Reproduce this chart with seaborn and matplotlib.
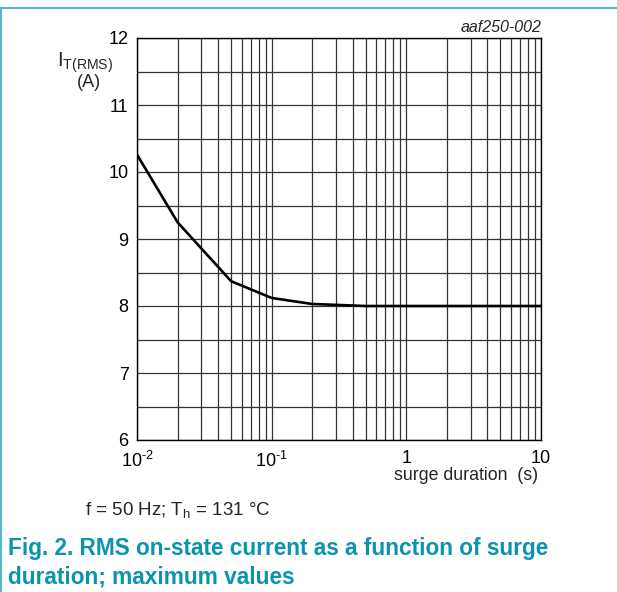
import matplotlib
matplotlib.use("Agg")
import matplotlib.pyplot as plt
import matplotlib.ticker as mticker
from matplotlib.lines import Line2D
import seaborn as sns
import pandas as pd

sns.set_style("white")
plt.rcParams['font.family'] = ['Liberation Sans', 'DejaVu Sans']
plt.rcParams['mathtext.fontset'] = 'custom'
plt.rcParams['mathtext.rm'] = 'Liberation Sans'
plt.rcParams['mathtext.it'] = 'Liberation Sans:italic'

# surge duration (s) vs RMS on-state current (A)
duration = [0.01, 0.02, 0.05, 0.1, 0.2, 0.5, 1, 2, 5, 10]
current = [10.26, 9.25, 8.37, 8.12, 8.03, 8.0, 8.0, 8.0, 8.0, 8.0]
x_ticks = [0.01, 0.1, 1, 10]
x_labels = [r'$\mathregular{10^{\text{-}2}}$', r'$\mathregular{10^{\text{-}1}}$', '1', '10']
y_ticks = [6, 7, 8, 9, 10, 11, 12]

df = pd.DataFrame({"duration": duration, "current": current})

fig = plt.figure(figsize=(6.17, 5.92), dpi=100)
ax = fig.add_axes([137 / 617, 1 - 440 / 592, 404 / 617, 402 / 592])

sns.lineplot(data=df, x="duration", y="current", ax=ax, color="black",
             linewidth=1.9, zorder=5)

ax.set_xscale("log")
ax.set_xlim(0.01, 10)
ax.set_ylim(6, 12)
ax.set_xticks(x_ticks)
ax.set_xticklabels(x_labels)
ax.xaxis.set_minor_locator(mticker.LogLocator(base=10, subs=range(2, 10)))
ax.xaxis.set_minor_formatter(mticker.NullFormatter())
ax.set_yticks(y_ticks)
ax.yaxis.set_minor_locator(mticker.MultipleLocator(0.5))
ax.grid(which="both", color="#333333", linewidth=0.9)
ax.tick_params(which="both", length=0, labelsize=13, colors="black")
ax.tick_params(axis="y", pad=6)
ax.tick_params(axis="x", pad=7.5)
for s in ax.spines.values():
    s.set_color("black")
    s.set_linewidth(1.0)
ax.set_xlabel("")
ax.set_ylabel("")

fig.text(57 / 617, 1 - 67 / 592, r'$\mathregular{I_{T(RMS)}}$', fontsize=14.5,
         ha="left", va="baseline")
fig.text(89 / 617, 1 - 87 / 592, "(A)", fontsize=13, ha="center", va="baseline")
fig.text(542 / 617, 1 - 28 / 592, "aaf250-002", fontsize=11.5, style="italic",
         ha="right", va="center")
fig.text(538 / 617, 1 - 475 / 592, "surge duration  (s)", fontsize=12.8,
         ha="right", va="center")
fig.text(85 / 617, 1 - 510 / 592, r'f = 50 Hz; T$\mathregular{_h}$ = 131 °C',
         fontsize=13.5, ha="left", va="center")
fig.text(8 / 617, 1 - 549 / 592,
         "Fig. 2. RMS on-state current as a function of surge",
         fontsize=16.3, fontweight="bold", color="#0b93b0", ha="left", va="center")
fig.text(8 / 617, 1 - 577 / 592, "duration; maximum values",
         fontsize=16.3, fontweight="bold", color="#0b93b0", ha="left", va="center")

teal = "#58b6c9"
fig.add_artist(Line2D([0, 1], [1 - 7.5 / 592] * 2, color=teal, linewidth=1.5))
fig.add_artist(Line2D([1 / 617] * 2, [0, 1 - 7.5 / 592], color=teal, linewidth=1.5))

fig.savefig("out.png", dpi=100)
